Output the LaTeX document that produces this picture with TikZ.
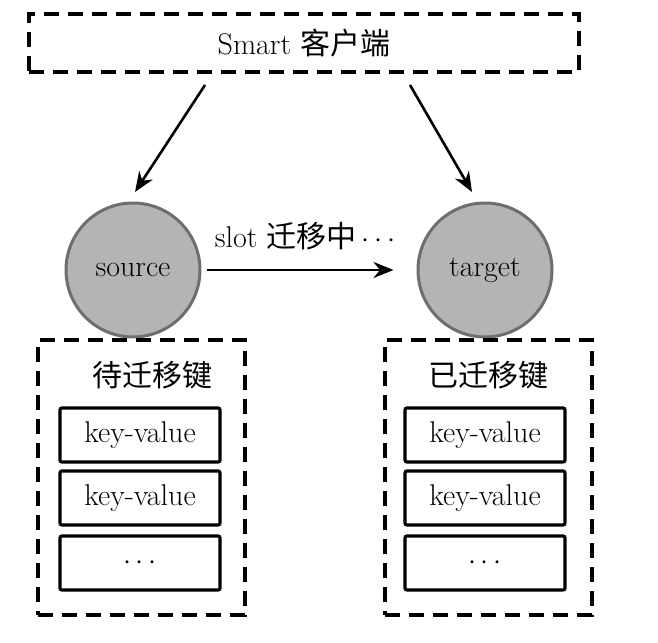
\documentclass[tikz,border=0pt]{standalone}
\usepackage{fontspec}
\newfontfamily\cjk{Noto Sans CJK SC}
\usepackage{tikz}
\usetikzlibrary{arrows.meta, positioning}
\usepackage{xcolor}

\definecolor{nodegray}{HTML}{B4B4B4}
\definecolor{rimgray}{HTML}{6E6E6E}

\tikzset{
    dashbox/.style={draw=black, line width=2pt, dash pattern=on 7.5pt off 4.5pt, inner sep=0pt},
    kvbox/.style={draw=black, line width=1.6pt, rounded corners=1pt, minimum width=80pt, minimum height=27pt, inner sep=0pt},
    redis/.style={circle, draw=rimgray, line width=1.5pt, fill=nodegray, minimum size=67pt, inner sep=0pt},
    flow/.style={draw=black, line width=1.3pt, -{Stealth[length=10pt, width=8pt]}}
}

\begin{document}
\begin{tikzpicture}[x=0.5pt, y=0.5pt, font=\fontsize{15}{18}\selectfont]
            \useasboundingbox (0,0) rectangle (658,642);

            % client on top
            \node[dashbox, minimum width=275pt, minimum height=29pt] (client) at (304,599) {Smart {\cjk 客户端}};

            % the two redis nodes
            \node[redis] (src) at (133,372) {source};
            \node[redis] (tgt) at (485,372) {target};

            \coordinate (c1) at (205,557);
            \coordinate (c2) at (410,557);
            \coordinate (s1) at (135,450);
            \coordinate (t1) at (472,450);
            \draw[flow] (c1) -- (s1);
            \draw[flow] (c2) -- (t1);

            \draw[flow, shorten <=2.5pt, shorten >=11.5pt] (src.east) -- (tgt.west)
                node[midway, above=6pt, xshift=-2pt] (mig) {slot {\cjk 迁移中}\,$\cdots$};

            % key lists
            \node[dashbox, minimum width=103.5pt, minimum height=137.5pt] (left) at (141.5,164.5) {};
            \node[dashbox, minimum width=103.5pt, minimum height=137.5pt] (right) at (488.5,164.5) {};

            \node (lhead) at (152,267) {\cjk 待迁移键};
            \node (rhead) at (488,267) {\cjk 已迁移键};

            \node[kvbox] (l1) at (140,207) {key-value};
            \node[kvbox] (l2) at (140,144) {key-value};
            \node[kvbox] (l3) at (140,79) {$\cdots$};

            \node[kvbox] (r1) at (485,207) {key-value};
            \node[kvbox] (r2) at (485,144) {key-value};
            \node[kvbox] (r3) at (485,79) {$\cdots$};
        \end{tikzpicture}
\end{document}
